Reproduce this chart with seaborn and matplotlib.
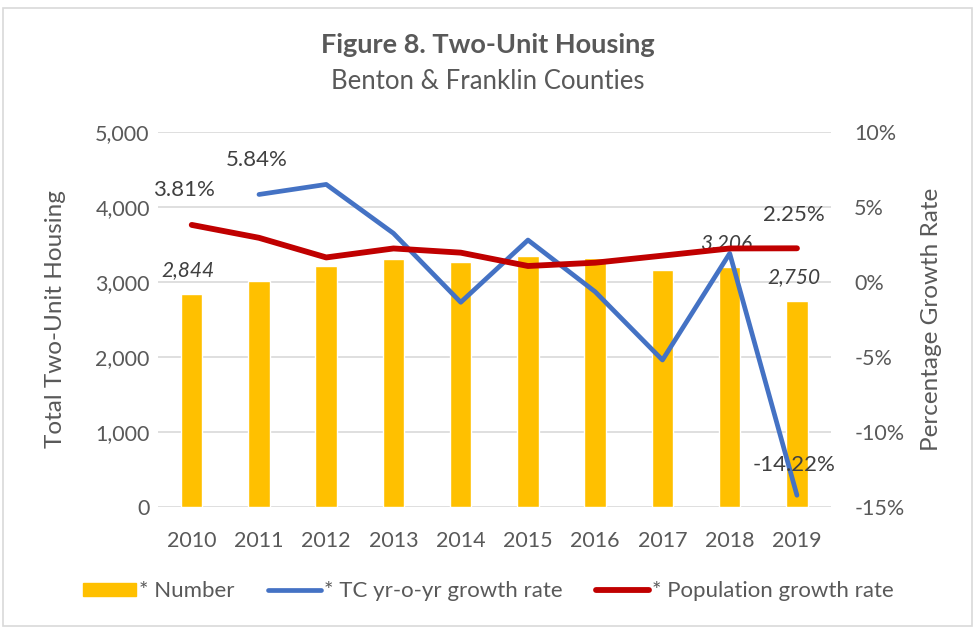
import numpy as np
import pandas as pd
import matplotlib.pyplot as plt
import matplotlib.ticker as mticker
from matplotlib.patches import Rectangle
from matplotlib.lines import Line2D
import seaborn as sns

years = ['2010', '2011', '2012', '2013', '2014', '2015', '2016', '2017', '2018', '2019']
units = [2844, 3010, 3210, 3310, 3265, 3350, 3325, 3160, 3206, 2750]
tc_growth = [np.nan, 5.84, 6.51, 3.25, -1.35, 2.80, -0.65, -5.20, 1.91, -14.22]
pop_growth = [3.81, 2.95, 1.64, 2.24, 1.96, 1.07, 1.29, 1.76, 2.24, 2.25]

grey = '#595959'
sns.set_theme(style='white')
plt.rcParams['font.family'] = ['Lato', 'DejaVu Sans']

df = pd.DataFrame({'year': years, 'units': units, 'tc': tc_growth, 'pop': pop_growth})
df['pos'] = np.arange(len(years))

fig = plt.figure(figsize=(9.76, 6.29), dpi=100)
ax = fig.add_axes([0.162, 0.194, 0.689, 0.596])

sns.barplot(data=df, x='year', y='units', color='#FFC000', saturation=1, width=0.32, ax=ax)
ax.set_ylim(0, 5000)
ax.set_xlim(-0.5, 9.5)
ax.yaxis.set_major_locator(mticker.MultipleLocator(1000))
ax.yaxis.set_major_formatter(mticker.StrMethodFormatter('{x:,.0f}'))
ax.grid(axis='y', color='#d9d9d9', lw=1.2)
ax.set_axisbelow(True)
for s in ax.spines.values():
    s.set_visible(False)
ax.set_xlabel('')
ax.set_ylabel('Total Two-Unit Housing', color=grey, fontsize=17.5, labelpad=21)
ax.tick_params(axis='both', colors=grey, labelsize=15.5, length=0)
ax.tick_params(axis='x', pad=17)
ax.tick_params(axis='y', pad=6)

ax2 = ax.twinx()
sns.lineplot(data=df.dropna(subset=['tc']), x='pos', y='tc', color='#4472C4', lw=3.4,
             ax=ax2, solid_capstyle='round')
sns.lineplot(data=df, x='pos', y='pop', color='#C00000', lw=4.2, ax=ax2, solid_capstyle='round')
ax2.set_ylim(-15, 10)
ax2.set_xlim(-0.5, 9.5)
ax2.yaxis.set_major_locator(mticker.MultipleLocator(5))
ax2.yaxis.set_major_formatter(mticker.FuncFormatter(lambda v, p: f'{v:.0f}%'))
for s in ax2.spines.values():
    s.set_visible(False)
ax2.set_xlabel('')
ax2.set_ylabel('Percentage Growth Rate', color=grey, fontsize=17.5, labelpad=12)
ax2.tick_params(axis='y', colors=grey, labelsize=15.5, length=0, pad=17)

# data labels
lab = dict(color='#404040', fontsize=16, va='center')
ax2.text(-0.12, pop_growth[0] + 2.32, f'{pop_growth[0]:.2f}%', ha='center', **lab)
ax2.text(0.97, tc_growth[1] + 2.29, f'{tc_growth[1]:.2f}%', ha='center', **lab)
ax2.text(8.95, pop_growth[9] + 2.22, f'{pop_growth[9]:.2f}%', ha='center', **lab)
ax2.text(8.95, tc_growth[9] + 2.02, f'{tc_growth[9]:.2f}%', ha='center', **lab)
for i in (0, 8, 9):
    ax.text(i - 0.05, units[i] + 315, f'{units[i]:,}', va='center', style='italic',
            color='#404040', fontsize=15, ha='center')

fig.text(0.5, 0.928, 'Figure 8. Two-Unit Housing', ha='center', va='center',
         fontsize=19.5, fontweight='bold', color=grey)
fig.text(0.5, 0.870, 'Benton & Franklin Counties', ha='center', va='center',
         fontsize=18.5, color=grey)

handles = [Rectangle((0, 0), 1, 1, color='#FFC000'),
           Line2D([], [], color='#4472C4', lw=3.4, solid_capstyle='round'),
           Line2D([], [], color='#C00000', lw=4.2, solid_capstyle='round')]
fig.legend(handles, ['* Number', '* TC yr-o-yr growth rate', '* Population growth rate'],
           loc='center', bbox_to_anchor=(0.5, 0.06), ncol=3, frameon=False,
           fontsize=16, labelcolor=grey, handlelength=2.4, handleheight=0.55,
           handletextpad=0.12, columnspacing=1.5)

fig.patches.append(Rectangle((0.003, 0.004), 0.993, 0.983, transform=fig.transFigure,
                             fill=False, edgecolor='#d9d9d9', lw=1.2))

fig.savefig('out.png', dpi=100)
